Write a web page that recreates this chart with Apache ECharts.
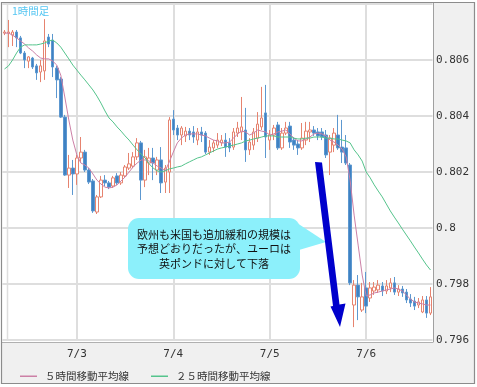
<!DOCTYPE html>
<html><head><meta charset="utf-8">
<script src="https://cdn.jsdelivr.net/npm/echarts@6/dist/echarts.min.js"></script>
<style>html,body{margin:0;padding:0;background:#fff}#c{width:477px;height:387px}</style>
</head><body><div id="c"></div>
<script>
// hourly candles from 7/2 06:00 to 7/6 16:00
const dayNames = ['7/2','7/3','7/4','7/5','7/6'];
const firstHour = 6;
const candleCount = 107;
const tickDays = ['7/3','7/4','7/5','7/6'];
const yTicks = [0.796, 0.798, 0.8, 0.802, 0.804, 0.806];

const opens = [0.80696,0.80696,0.80689,0.80700,0.80679,0.80625,0.80596,0.80607,0.80579,0.80557,
0.80561,0.80682,0.80671,0.80571,0.80532,0.80396,0.80189,0.80214,0.80193,0.80250,
0.80271,0.80207,0.80168,0.80057,0.80111,0.80171,0.80161,0.80150,0.80186,0.80161,
0.80186,0.80214,0.80221,0.80254,0.80304,0.80171,0.80232,0.80250,0.80207,0.80243,
0.80164,0.80200,0.80389,0.80357,0.80332,0.80329,0.80346,0.80343,0.80314,0.80343,
0.80339,0.80271,0.80286,0.80296,0.80304,0.80314,0.80304,0.80289,0.80339,0.80343,
0.80350,0.80279,0.80296,0.80321,0.80361,0.80411,0.80314,0.80332,0.80368,0.80286,
0.80339,0.80364,0.80314,0.80300,0.80286,0.80314,0.80343,0.80350,0.80343,0.80343,
0.80332,0.80271,0.80296,0.80332,0.80289,0.80286,0.80225,0.79725,0.79796,0.79707,
0.79786,0.79750,0.79775,0.79779,0.79793,0.79775,0.79786,0.79804,0.79771,0.79782,
0.79771,0.79746,0.79739,0.79725,0.79700,0.79743,0.79696];
const closes = [0.80700,0.80700,0.80700,0.80679,0.80625,0.80600,0.80611,0.80575,0.80554,0.80579,
0.80668,0.80657,0.80575,0.80529,0.80396,0.80189,0.80214,0.80193,0.80250,0.80271,
0.80207,0.80164,0.80061,0.80111,0.80171,0.80161,0.80146,0.80179,0.80161,0.80189,
0.80218,0.80229,0.80254,0.80304,0.80171,0.80254,0.80250,0.80232,0.80243,0.80161,
0.80214,0.80386,0.80350,0.80332,0.80357,0.80346,0.80332,0.80325,0.80343,0.80332,
0.80271,0.80289,0.80304,0.80314,0.80314,0.80289,0.80286,0.80343,0.80357,0.80361,
0.80279,0.80307,0.80343,0.80371,0.80393,0.80325,0.80332,0.80357,0.80286,0.80339,
0.80357,0.80307,0.80296,0.80286,0.80321,0.80346,0.80350,0.80339,0.80329,0.80325,
0.80261,0.80321,0.80339,0.80286,0.80271,0.80232,0.79804,0.79796,0.79754,0.79754,
0.79721,0.79786,0.79789,0.79796,0.79775,0.79793,0.79804,0.79771,0.79782,0.79768,
0.79743,0.79732,0.79721,0.79736,0.79743,0.79696,0.79754];
const lows = [0.80689,0.80646,0.80650,0.80646,0.80621,0.80571,0.80571,0.80568,0.80529,0.80521,
0.80529,0.80646,0.80539,0.80464,0.80393,0.80186,0.80143,0.80118,0.80154,0.80236,
0.80200,0.80157,0.80054,0.80050,0.80107,0.80150,0.80139,0.80143,0.80154,0.80154,
0.80179,0.80207,0.80214,0.80243,0.80100,0.80146,0.80189,0.80171,0.80189,0.80125,
0.80125,0.80125,0.80332,0.80314,0.80296,0.80307,0.80314,0.80304,0.80296,0.80307,
0.80264,0.80261,0.80271,0.80286,0.80293,0.80254,0.80271,0.80279,0.80325,0.80314,
0.80236,0.80261,0.80279,0.80307,0.80350,0.80250,0.80279,0.80314,0.80279,0.80279,
0.80332,0.80286,0.80279,0.80261,0.80279,0.80296,0.80307,0.80329,0.80314,0.80314,
0.80250,0.80189,0.80271,0.80279,0.80232,0.80225,0.79796,0.79646,0.79671,0.79700,
0.79696,0.79736,0.79761,0.79768,0.79757,0.79764,0.79771,0.79761,0.79757,0.79754,
0.79732,0.79718,0.79707,0.79714,0.79696,0.79679,0.79689];
const highs = [0.80707,0.80743,0.80707,0.80707,0.80686,0.80632,0.80614,0.80611,0.80586,0.80600,
0.80746,0.80693,0.80693,0.80579,0.80539,0.80404,0.80261,0.80243,0.80261,0.80325,
0.80279,0.80214,0.80175,0.80118,0.80186,0.80189,0.80168,0.80186,0.80196,0.80200,
0.80225,0.80268,0.80271,0.80321,0.80311,0.80279,0.80286,0.80286,0.80254,0.80289,
0.80225,0.80396,0.80421,0.80368,0.80364,0.80361,0.80357,0.80364,0.80357,0.80361,
0.80346,0.80314,0.80314,0.80339,0.80332,0.80339,0.80321,0.80357,0.80379,0.80468,
0.80429,0.80321,0.80357,0.80414,0.80504,0.80511,0.80350,0.80368,0.80379,0.80357,
0.80379,0.80379,0.80325,0.80314,0.80375,0.80379,0.80379,0.80364,0.80357,0.80357,
0.80350,0.80332,0.80357,0.80404,0.80386,0.80332,0.80232,0.79814,0.79832,0.79804,
0.79843,0.79807,0.79807,0.79814,0.79807,0.79814,0.79821,0.79825,0.79796,0.79793,
0.79782,0.79764,0.79754,0.79750,0.79757,0.79757,0.79789];
const ma5 = [0.80696,0.80696,0.80689,0.80679,0.80668,0.80657,0.80643,0.80632,0.80618,0.80607,
0.80604,0.80604,0.80596,0.80582,0.80546,0.80468,0.80386,0.80314,0.80261,0.80232,
0.80225,0.80214,0.80193,0.80171,0.80157,0.80146,0.80143,0.80146,0.80154,0.80168,
0.80182,0.80200,0.80218,0.80232,0.80243,0.80243,0.80239,0.80232,0.80221,0.80214,
0.80204,0.80236,0.80271,0.80304,0.80321,0.80332,0.80336,0.80336,0.80336,0.80332,
0.80329,0.80321,0.80314,0.80311,0.80304,0.80304,0.80307,0.80321,0.80336,0.80346,
0.80343,0.80332,0.80339,0.80350,0.80346,0.80343,0.80332,0.80336,0.80343,0.80346,
0.80350,0.80336,0.80321,0.80311,0.80311,0.80318,0.80325,0.80336,0.80339,0.80336,
0.80329,0.80314,0.80307,0.80296,0.80282,0.80254,0.80171,0.80046,0.79939,0.79832,
0.79757,0.79761,0.79768,0.79771,0.79775,0.79779,0.79782,0.79786,0.79782,0.79775,
0.79761,0.79746,0.79736,0.79732,0.79729,0.79725,0.79725];
const ma25 = [0.80568,0.80579,0.80600,0.80625,0.80646,0.80654,0.80654,0.80654,0.80654,0.80657,
0.80661,0.80668,0.80671,0.80661,0.80646,0.80625,0.80604,0.80582,0.80564,0.80546,
0.80529,0.80511,0.80493,0.80471,0.80446,0.80418,0.80393,0.80379,0.80361,0.80346,
0.80329,0.80314,0.80296,0.80279,0.80264,0.80250,0.80229,0.80214,0.80204,0.80200,
0.80204,0.80211,0.80214,0.80218,0.80221,0.80229,0.80236,0.80243,0.80250,0.80254,
0.80261,0.80268,0.80275,0.80282,0.80286,0.80289,0.80293,0.80296,0.80300,0.80304,
0.80311,0.80314,0.80318,0.80321,0.80325,0.80329,0.80329,0.80329,0.80325,0.80325,
0.80325,0.80325,0.80321,0.80318,0.80318,0.80321,0.80321,0.80325,0.80325,0.80325,
0.80321,0.80321,0.80318,0.80318,0.80314,0.80311,0.80304,0.80279,0.80261,0.80239,
0.80200,0.80179,0.80154,0.80132,0.80111,0.80086,0.80061,0.80039,0.80018,0.79996,
0.79975,0.79954,0.79932,0.79911,0.79889,0.79868,0.79850];

const categories = [];
for (let i = 0; i < candleCount; i++) {
  const t = firstHour + i;
  categories.push(dayNames[Math.floor(t / 24)] + ' ' + (t % 24) + ':00');
}
const candleData = opens.map((o, i) => [o, closes[i], lows[i], highs[i]]);

const chart = echarts.init(document.getElementById('c'), null, {renderer: 'canvas'});
const GRID_L = 2.5, GRID_R = 44.5, GRID_T = 4, GRID_B = 47;
chart.setOption({
  animation: false,
  backgroundColor: '#ffffff',
  textStyle: {fontFamily: 'DejaVu Sans Mono'},
  graphic: [
    {type: 'rect', z: -10, silent: true, shape: {x: 433, y: 3, width: 41, height: 380}, style: {fill: '#f0f0f0'}},
    {type: 'rect', z: -10, silent: true, shape: {x: 2, y: 342, width: 472, height: 41}, style: {fill: '#f0f0f0'}},
    {type: 'line', z: -5, silent: true, shape: {x1: 7.5, y1: 4, x2: 7.5, y2: 341}, style: {stroke: '#dedede', lineWidth: 1.5}},
    {type: 'line', z: 50, silent: true, shape: {x1: 433.5, y1: 3, x2: 433.5, y2: 342}, style: {stroke: '#a0a0a0', lineWidth: 1}},
    {type: 'line', z: 50, silent: true, shape: {x1: 2, y1: 342.5, x2: 433.5, y2: 342.5}, style: {stroke: '#b0b0b0', lineWidth: 1}},
    {type: 'rect', z: 50, silent: true, shape: {x: 1.5, y: 2.5, width: 473, height: 381}, style: {fill: 'none', stroke: '#8c8c8c', lineWidth: 1.2}},
    {type: 'text', z: 50, silent: true, left: 12, top: 6, style: {text: '1時間足', fill: '#55c6f2', font: '10.5px "Noto Sans CJK JP"'}},
    {type: 'polygon', z: 60, silent: true, shape: {points: [[294, 221], [326, 242], [299, 250]]}, style: {fill: '#8cf0fb'}},
    {type: 'rect', z: 60, silent: true, shape: {x: 128, y: 218, width: 172, height: 61, r: 11}, style: {fill: '#8cf0fb'}},
    {type: 'text', z: 61, silent: true, x: 214, y: 249, style: {
      text: '欧州も米国も追加緩和の規模は\n予想どおりだったが、ユーロは\n英ポンドに対して下落',
      fill: '#111', font: '11px "Noto Sans CJK JP"', align: 'center', verticalAlign: 'middle', lineHeight: 14.5}},
    {type: 'polygon', z: 62, silent: true, shape: {points: [[315, 162], [322, 162.5], [339.5, 304.5], [345.5, 303.5], [340, 327], [330.5, 306.5], [333, 306]]}, style: {fill: '#0000cc'}}
  ],
  legend: {
    data: ['５時間移動平均線', '２５時間移動平均線'],
    left: 15, top: 366, icon: 'rect', itemWidth: 17, itemHeight: 1.5, itemGap: 22,
    textStyle: {fontFamily: '"Noto Sans CJK JP"', fontSize: 10.5, color: '#333', padding: [0, 0, 0, 3]}
  },
  grid: {left: GRID_L, right: GRID_R, top: GRID_T, bottom: GRID_B, containLabel: false},
  xAxis: {
    type: 'category', data: categories, boundaryGap: true,
    axisLine: {show: false}, axisTick: {show: false},
    splitLine: {show: false},
    axisLabel: {
      interval: (idx, val) => val.endsWith(' 0:00') && tickDays.includes(val.split(' ')[0]),
      formatter: v => v.split(' ')[0], margin: 9, color: '#333', fontSize: 11, fontFamily: 'DejaVu Sans Mono'
    }
  },
  yAxis: {
    type: 'value', position: 'right', min: 0.796, max: 0.808, interval: 0.002, scale: true,
    axisLine: {show: false}, axisTick: {show: false},
    splitLine: {show: true, lineStyle: {color: '#dedede', width: 2}},
    axisLabel: {
      margin: 3.5, color: '#333', fontSize: 11, fontFamily: 'DejaVu Sans Mono',
      formatter: v => yTicks.some(t => Math.abs(t - v) < 1e-9) ? String(+v.toFixed(3)) : ''
    }
  },
  series: [
    {
      type: 'candlestick', name: '1時間足', data: candleData, barWidth: 3, clip: false,
      itemStyle: {color: '#ffffff', color0: '#3f82c3', borderColor: '#e6836f', borderColor0: '#5d98d0', borderWidth: 1},
      markLine: {
        symbol: 'none', silent: true, animation: false, label: {show: false}, z: 1,
        lineStyle: {color: '#dedede', width: 2, type: 'solid'},
        data: tickDays.map(d => ({xAxis: d + ' 0:00'}))
      }
    },
    {type: 'line', name: '５時間移動平均線', data: ma5, symbol: 'none', lineStyle: {color: '#cc80a6', width: 1}, itemStyle: {color: '#cc80a6'}, z: 3},
    {type: 'line', name: '２５時間移動平均線', data: ma25, symbol: 'none', lineStyle: {color: '#55c48c', width: 1}, itemStyle: {color: '#55c48c'}, z: 3}
  ]
});
</script></body></html>
